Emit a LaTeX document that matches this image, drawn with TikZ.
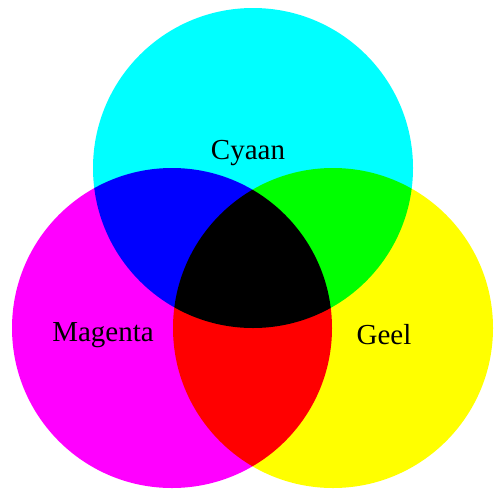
\documentclass[tikz,border=0pt]{standalone}
\usepackage{fontspec}
\setmainfont{Liberation Serif}
\usepackage{xcolor}
\usepackage{tikz}
\usetikzlibrary{positioning}

\definecolor{cyaan}{RGB}{0,255,255}
\definecolor{magenta2}{RGB}{255,0,255}
\definecolor{geel}{RGB}{255,255,0}

\begin{document}
\begin{tikzpicture}[
    x=1pt, y=-1pt,
    blob/.style={circle, minimum size=320pt, inner sep=0pt, draw=none},
    lbl/.style={font=\fontsize{29}{29}\selectfont, anchor=base, inner sep=0pt}
]
\useasboundingbox (0,0) rectangle (497,488);

% the three ink circles, multiplied where they overlap
\begin{scope}[blend group=multiply]
\node[blob, fill=cyaan] (cyaan) at (253,168) {};
\node[blob, fill=magenta2] (magenta) at (172,328) {};
\node[blob, fill=geel] (geel) at (333,328) {};
\end{scope}

\node[lbl] (tcyaan) at (248,159) {Cyaan};
\node[lbl] (tmagenta) at (103,341) {Magenta};
\node[lbl] (tgeel) at (384,344) {Geel};

\end{tikzpicture}
\end{document}
